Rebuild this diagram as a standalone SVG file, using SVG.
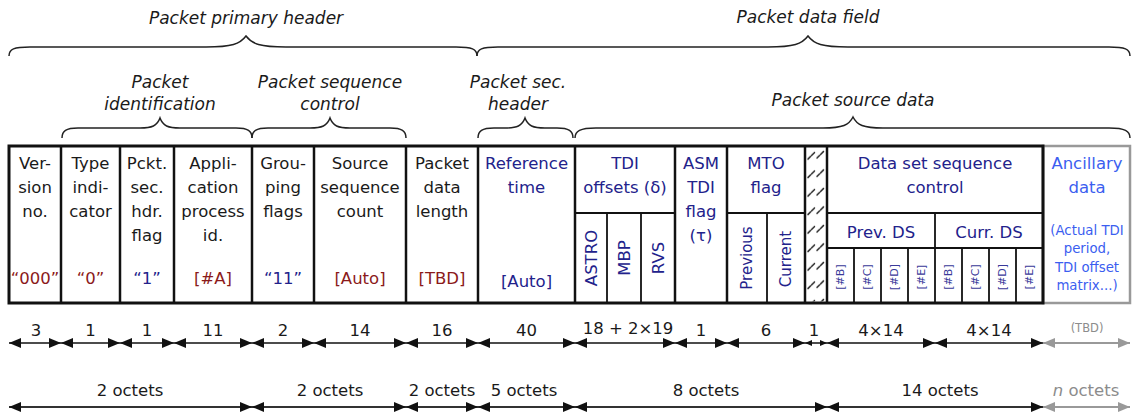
<svg xmlns="http://www.w3.org/2000/svg" width="1133" height="415" viewBox="0 0 1133 415">
<style>
text{font-family:"DejaVu Sans",Verdana,sans-serif;text-anchor:middle;dominant-baseline:central}
.t{font-size:16.5px;fill:#1a1a1a}
.h{font-size:17px;font-style:italic;fill:#1a1a1a}
.r{fill:#8b1a1a}
.b{fill:#22228b}
.a{fill:#3b5ef0}
.sm{font-size:13.3px}
.v{font-size:15px}
.bit{font-size:11px;fill:#3a3a9a}
.n{font-size:16.5px;fill:#1a1a1a}
.g{fill:#8c8c8c}
.frame{fill:none;stroke:#111;stroke-width:3}
.col{stroke:#111;stroke-width:2.5}
.sub{stroke:#111;stroke-width:1.8}
.brace{fill:none;stroke:#222;stroke-width:1.5}
.ar{stroke:#111;stroke-width:1.5}
.ar2{stroke:#333;stroke-width:2}
.arg{stroke:#999;stroke-width:2}
</style>
<defs>
<marker id="ah" viewBox="0 0 12 10" refX="12" refY="5" markerWidth="12" markerHeight="10" markerUnits="userSpaceOnUse" orient="auto-start-reverse"><path d="M0,0 L12,5 L0,10 z" fill="#111"/></marker>
<marker id="ahs" viewBox="0 0 12 10" refX="12" refY="5" markerWidth="7" markerHeight="8" markerUnits="userSpaceOnUse" orient="auto-start-reverse"><path d="M0,0 L12,5 L0,10 z" fill="#111"/></marker>
<marker id="ahg" viewBox="0 0 12 10" refX="12" refY="5" markerWidth="12" markerHeight="10" markerUnits="userSpaceOnUse" orient="auto-start-reverse"><path d="M0,0 L12,5 L0,10 z" fill="#999"/></marker>
<pattern id="hatch" x="805" y="146" width="22" height="18.5" patternUnits="userSpaceOnUse">
<path d="M3,13 L5.5,10.5 M6.5,9.5 L9.5,6.5 M12,12 L14.5,9.5 M15.5,8.5 L18.5,5.5" stroke="#222" stroke-width="1.5" stroke-linecap="round"/>
</pattern>
</defs>

<g id="braces">
<path class="brace" d="M9,56 C9,49 14,47 30,47 L206,47 C232,47 240,44 246,36 C252,44 260,47 286,47 L456,47 C472,47 477,49 477,56"/>
<path class="brace" d="M477,56 C477,49 482,47 498,47 L768,47 C794,47 802,44 808,36 C814,44 822,47 848,47 L1109,47 C1125,47 1130,49 1130,56"/>
<path class="brace" d="M62,138 C62,131 66,128 78,128 L140,128 C152,128 157,126 160,118 C163,126 168,128 180,128 L236,128 C248,128 252,131 252,138"/>
<path class="brace" d="M252,138 C252,131 256,128 268,128 L310,128 C322,128 327,126 330,118 C333,126 338,128 350,128 L390,128 C402,128 406,131 406,138"/>
<path class="brace" d="M478,138 C478,131 482,128 494,128 L505,128 C517,128 522,126 525,118 C528,126 533,128 545,128 L557,128 C569,128 573,131 573,138"/>
<path class="brace" d="M575,138 C575,131 580,128 596,128 L823,128 C843,128 849,125 853,117 C857,125 863,128 883,128 L1109,128 C1125,128 1130,131 1130,138"/>
<text class="h" x="246" y="18">Packet primary header</text>
<text class="h" x="808" y="17">Packet data field</text>
<text class="h" x="160" y="82">Packet</text>
<text class="h" x="160" y="104">identification</text>
<text class="h" x="330" y="82">Packet sequence</text>
<text class="h" x="330" y="104">control</text>
<text class="h" x="518" y="82">Packet sec.</text>
<text class="h" x="518" y="104">header</text>
<text class="h" x="853" y="100">Packet source data</text>
</g>

<g id="ancillary">
<rect x="1043" y="146" width="87" height="157" fill="#fff" stroke="#999" stroke-width="2.5"/>
<text class="t a" x="1087" y="163">Ancillary</text>
<text class="t a" x="1087" y="187">data</text>
<text class="t a sm" x="1087" y="230">(Actual TDI</text>
<text class="t a sm" x="1087" y="248">period,</text>
<text class="t a sm" x="1087" y="267">TDI offset</text>
<text class="t a sm" x="1087" y="285">matrix...)</text>
</g>

<g id="frame">
<rect class="frame" x="9" y="146" width="1034" height="157" fill="none"/>
</g>

<g id="version">
<text class="t" x="35" y="163">Ver-</text>
<text class="t" x="35" y="187">sion</text>
<text class="t" x="35" y="211">no.</text>
<text class="t r" x="35" y="278">“000”</text>
<line class="col" x1="61" y1="146" x2="61" y2="303"/>
</g>
<g id="type">
<text class="t" x="90.5" y="163">Type</text>
<text class="t" x="90.5" y="187">indi-</text>
<text class="t" x="90.5" y="211">cator</text>
<text class="t r" x="90.5" y="278">“0”</text>
<line class="col" x1="120" y1="146" x2="120" y2="303"/>
</g>
<g id="secflag">
<text class="t" x="147" y="163">Pckt.</text>
<text class="t" x="147" y="187">sec.</text>
<text class="t" x="147" y="211">hdr.</text>
<text class="t" x="147" y="235">flag</text>
<text class="t b" x="147" y="278">“1”</text>
<line class="col" x1="174" y1="146" x2="174" y2="303"/>
</g>
<g id="apid">
<text class="t" x="213" y="163">Appli-</text>
<text class="t" x="213" y="187">cation</text>
<text class="t" x="213" y="211">process</text>
<text class="t" x="213" y="235">id.</text>
<text class="t r" x="213" y="278">[#A]</text>
<line class="col" x1="252" y1="146" x2="252" y2="303"/>
</g>
<g id="grouping">
<text class="t" x="283" y="163">Grou-</text>
<text class="t" x="283" y="187">ping</text>
<text class="t" x="283" y="211">flags</text>
<text class="t b" x="283" y="278">“11”</text>
<line class="col" x1="314" y1="146" x2="314" y2="303"/>
</g>
<g id="seqcount">
<text class="t" x="360" y="163">Source</text>
<text class="t" x="360" y="187">sequence</text>
<text class="t" x="360" y="211">count</text>
<text class="t r" x="360" y="278">[Auto]</text>
<line class="col" x1="406" y1="146" x2="406" y2="303"/>
</g>
<g id="datalength">
<text class="t" x="442" y="163">Packet</text>
<text class="t" x="442" y="187">data</text>
<text class="t" x="442" y="211">length</text>
<text class="t r" x="442" y="278">[TBD]</text>
<line class="col" x1="478" y1="146" x2="478" y2="303"/>
</g>
<g id="reftime">
<text class="t b" x="526.5" y="163">Reference</text>
<text class="t b" x="526.5" y="187">time</text>
<text class="t b" x="526.5" y="281">[Auto]</text>
<line class="col" x1="575" y1="146" x2="575" y2="303"/>
</g>
<g id="tdi">
<text class="t b" x="625" y="163">TDI</text>
<text class="t b" x="625" y="187">offsets (δ)</text>
<line class="sub" x1="575" y1="213" x2="675" y2="213"/>
<line class="sub" x1="607" y1="213" x2="607" y2="303"/>
<line class="sub" x1="641" y1="213" x2="641" y2="303"/>
<text class="t b" transform="translate(591,258) rotate(-90)">ASTRO</text>
<text class="t b" transform="translate(624,258) rotate(-90)">MBP</text>
<text class="t b" transform="translate(658,258) rotate(-90)">RVS</text>
<line class="col" x1="675" y1="146" x2="675" y2="303"/>
</g>
<g id="asm">
<text class="t b" x="701" y="163">ASM</text>
<text class="t b" x="701" y="187">TDI</text>
<text class="t b" x="701" y="211">flag</text>
<text class="t b" x="701" y="235">(τ)</text>
<line class="col" x1="727" y1="146" x2="727" y2="303"/>
</g>
<g id="mto">
<text class="t b" x="766" y="163">MTO</text>
<text class="t b" x="766" y="187">flag</text>
<line class="sub" x1="727" y1="213" x2="805" y2="213"/>
<line class="sub" x1="767" y1="213" x2="767" y2="303"/>
<text class="t b v" transform="translate(747,258) rotate(-90)">Previous</text>
<text class="t b v" transform="translate(786,259) rotate(-90)">Current</text>
<line class="col" x1="805" y1="146" x2="805" y2="303"/>
</g>
<g id="spare">
<rect x="806.5" y="147.5" width="19" height="154" fill="url(#hatch)"/>
<line class="col" x1="827" y1="146" x2="827" y2="303"/>
</g>
<g id="dsseq">
<text class="t b" x="935" y="163">Data set sequence</text>
<text class="t b" x="935" y="187">control</text>
<line class="sub" x1="827" y1="213" x2="1043" y2="213"/>
<line class="sub" x1="827" y1="248" x2="1043" y2="248"/>
<line class="sub" x1="935" y1="213" x2="935" y2="303"/>
<text class="t b" x="881" y="232">Prev. DS</text>
<text class="t b" x="989" y="232">Curr. DS</text>
<line class="sub" x1="854" y1="248" x2="854" y2="303"/>
<line class="sub" x1="881" y1="248" x2="881" y2="303"/>
<line class="sub" x1="908" y1="248" x2="908" y2="303"/>
<line class="sub" x1="962" y1="248" x2="962" y2="303"/>
<line class="sub" x1="989" y1="248" x2="989" y2="303"/>
<line class="sub" x1="1016" y1="248" x2="1016" y2="303"/>
<text class="bit" transform="translate(840.5,277) rotate(-90)">[#B]</text>
<text class="bit" transform="translate(867.5,277) rotate(-90)">[#C]</text>
<text class="bit" transform="translate(894.5,277) rotate(-90)">[#D]</text>
<text class="bit" transform="translate(921.5,277) rotate(-90)">[#E]</text>
<text class="bit" transform="translate(948.5,277) rotate(-90)">[#B]</text>
<text class="bit" transform="translate(975.5,277) rotate(-90)">[#C]</text>
<text class="bit" transform="translate(1002.5,277) rotate(-90)">[#D]</text>
<text class="bit" transform="translate(1029.5,277) rotate(-90)">[#E]</text>
</g>

<g id="connectors">
<g marker-start="url(#ah)" marker-end="url(#ah)" class="ar">
<line x1="9" y1="343" x2="61" y2="343"/>
<line x1="61" y1="343" x2="120" y2="343"/>
<line x1="120" y1="343" x2="174" y2="343"/>
<line x1="174" y1="343" x2="252" y2="343"/>
<line x1="252" y1="343" x2="314" y2="343"/>
<line x1="314" y1="343" x2="406" y2="343"/>
<line x1="406" y1="343" x2="478" y2="343"/>
<line x1="478" y1="343" x2="575" y2="343"/>
<line x1="575" y1="343" x2="675" y2="343"/>
<line x1="675" y1="343" x2="727" y2="343"/>
<line x1="727" y1="343" x2="805" y2="343"/>
<line x1="827" y1="343" x2="935" y2="343"/>
<line x1="935" y1="343" x2="1043" y2="343"/>
</g>
<line class="ar" x1="805" y1="343" x2="827" y2="343" marker-start="url(#ahs)" marker-end="url(#ahs)"/>
<line class="arg" x1="1043" y1="343" x2="1130" y2="343" marker-start="url(#ahg)" marker-end="url(#ahg)"/>
<g marker-start="url(#ah)" marker-end="url(#ah)" class="ar2">
<line x1="9" y1="407" x2="252" y2="407"/>
<line x1="252" y1="407" x2="406" y2="407"/>
<line x1="406" y1="407" x2="478" y2="407"/>
<line x1="478" y1="407" x2="575" y2="407"/>
<line x1="575" y1="407" x2="827" y2="407"/>
<line x1="827" y1="407" x2="1043" y2="407"/>
</g>
<line class="arg" x1="1043" y1="407" x2="1130" y2="407" marker-start="url(#ahg)" marker-end="url(#ahg)"/>
<text class="n" x="36" y="330">3</text>
<text class="n" x="90.5" y="330">1</text>
<text class="n" x="147" y="330">1</text>
<text class="n" x="213" y="330">11</text>
<text class="n" x="283" y="330">2</text>
<text class="n" x="360" y="330">14</text>
<text class="n" x="442" y="330">16</text>
<text class="n" x="526.5" y="330">40</text>
<text class="n" x="628" y="328">18 + 2×19</text>
<text class="n" x="701" y="330">1</text>
<text class="n" x="766" y="330">6</text>
<text class="n" x="814" y="330">1</text>
<text class="n" x="881" y="330">4×14</text>
<text class="n" x="989" y="330">4×14</text>
<text class="g" x="1087" y="328" font-size="11.5">(TBD)</text>
<text class="n" x="130" y="390">2 octets</text>
<text class="n" x="330" y="390">2 octets</text>
<text class="n" x="442" y="390">2 octets</text>
<text class="n" x="524" y="390">5 octets</text>
<text class="n" x="706" y="390">8 octets</text>
<text class="n" x="940" y="390">14 octets</text>
<text class="n g" x="1086" y="390"><tspan font-style="italic">n</tspan> octets</text>
</g>
</svg>
